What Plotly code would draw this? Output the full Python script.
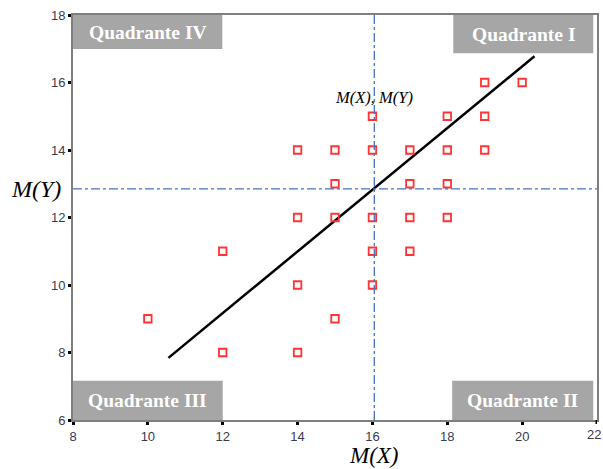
import plotly.graph_objects as go

# Data
x_vals = [10, 12, 12, 14, 14, 14, 14, 15, 15, 15, 15, 16, 16, 16, 16, 16,
          17, 17, 17, 17, 18, 18, 18, 18, 19, 19, 19, 20]
y_vals = [9, 11, 8, 14, 12, 10, 8, 14, 13, 12, 9, 15, 14, 12, 11, 10,
          14, 13, 12, 11, 15, 14, 13, 12, 16, 15, 14, 16]
mean_x = 16.05
mean_y = 12.85
reg_x = [10.55, 20.33]
reg_y = [7.84, 16.78]
x_ticks = [8, 10, 12, 14, 16, 18, 20, 22]
y_ticks = [6, 8, 10, 12, 14, 16, 18]
quad_labels = ["Quadrante IV", "Quadrante I", "Quadrante III", "Quadrante II"]

tick_font = dict(family="Arial", size=13, color="#3a3a50")

fig = go.Figure()

fig.add_trace(go.Scatter(x=reg_x, y=reg_y, mode="lines",
                         line=dict(color="black", width=2.5),
                         showlegend=False, hoverinfo="skip"))
fig.add_trace(go.Scatter(x=x_vals, y=y_vals, mode="markers",
                         marker=dict(symbol="square-open", size=7.5,
                                     color="#ff3333", line=dict(width=1.8)),
                         showlegend=False))

# mean lines
fig.add_shape(type="line", xref="x", yref="paper", x0=mean_x, x1=mean_x,
              y0=0, y1=1.005, line=dict(color="#4472c4", width=1.3, dash="dashdot"))
fig.add_shape(type="line", xref="paper", yref="y", x0=0, x1=1, y0=mean_y, y1=mean_y,
              line=dict(color="#4472c4", width=1.3, dash="dashdot"))

# quadrant boxes
boxes = [
    (8.0, 11.99, 16.99, 18.0),
    (18.16, 21.9, 16.87, 18.0),
    (8.0, 12.0, 6.0, 7.16),
    (18.13, 21.9, 6.0, 7.16),
]
for (x0, x1, y0, y1), lab in zip(boxes, quad_labels):
    fig.add_shape(type="rect", xref="x", yref="y", x0=x0, x1=x1, y0=y0, y1=y1,
                  fillcolor="#a6a6a6", line=dict(width=0), layer="above")
    fig.add_annotation(x=(x0 + x1) / 2, y=(y0 + y1) / 2, xref="x", yref="y",
                       text="<b>" + lab + "</b>", showarrow=False,
                       font=dict(family="Liberation Serif", size=19.5, color="white"))

fig.add_annotation(x=mean_x, y=15.55, xref="x", yref="y", text="<i>M(X), M(Y)</i>",
                   showarrow=False,
                   font=dict(family="Liberation Serif", size=16.5, color="black"))

fig.add_annotation(x=-0.07, y=mean_y, xref="paper", yref="y", text="<i>M(Y)</i>",
                   showarrow=False, xanchor="center",
                   font=dict(family="Liberation Serif", size=24, color="black"))
fig.add_annotation(x=mean_x, y=-0.088, xref="x", yref="paper", text="<i>M(X)</i>",
                   showarrow=False, yanchor="middle",
                   font=dict(family="Liberation Serif", size=23, color="black"))

# last x tick label and tick mark (would overflow the page edge)
fig.add_annotation(x=x_ticks[-1], y=0, xref="x", yref="paper", text=str(x_ticks[-1]),
                   showarrow=False, yanchor="top", xanchor="right", xshift=6, yshift=-5,
                   font=tick_font)
fig.add_shape(type="line", xref="x", yref="paper", x0=x_ticks[-1], x1=x_ticks[-1],
              y0=0, y1=-0.01, line=dict(color="black", width=3))

axis_common = dict(showgrid=False, zeroline=False, showline=True, linecolor="#7f7f7f",
                   linewidth=2, mirror=True, ticks="outside", ticklen=3, tickwidth=3,
                   tickcolor="black", automargin=False, tickfont=tick_font)

fig.update_xaxes(range=[8, 22], tickvals=x_ticks[:-1], **axis_common)
fig.update_yaxes(range=[6, 18], tickvals=y_ticks, **axis_common)

fig.update_layout(width=603, height=469,
                  margin=dict(l=73, r=6, t=15, b=49, autoexpand=False),
                  plot_bgcolor="white", paper_bgcolor="white")

fig.write_html("out.html")
